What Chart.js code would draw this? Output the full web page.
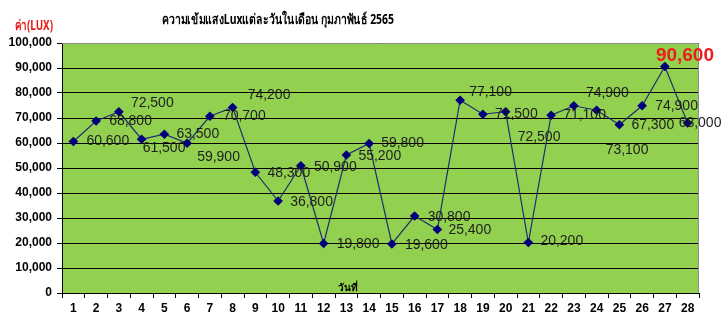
<!DOCTYPE html>
<html>
<head>
<meta charset="utf-8">
<script src="https://cdn.jsdelivr.net/npm/chart.js@4/dist/chart.umd.min.js"></script>
<style>
  html, body { margin: 0; padding: 0; background: #ffffff; }
  #wrap { position: relative; width: 724px; height: 320px; }
</style>
</head>
<body>
<div id="wrap"><canvas id="c" width="724" height="320"></canvas></div>
<script>
// ---- data ----
const days = ['1','2','3','4','5','6','7','8','9','10','11','12','13','14','15','16','17','18','19','20','21','22','23','24','25','26','27','28'];
const luxValues = [60600, 68800, 72500, 61500, 63500, 59900, 70700, 74200, 48300, 36800, 50900, 19800, 55200, 59800, 19600, 30800, 25400, 77100, 71500, 72500, 20200, 71100, 74900, 73100, 67300, 74900, 90600, 68000];
const yTickValues = [0, 10000, 20000, 30000, 40000, 50000, 60000, 70000, 80000, 90000, 100000];
const chartTitle = 'ความเข้มแสงLuxแต่ละวันในเดือน กุมภาพันธ์ 2565';
const yAxisTitle = 'ค่า(LUX)';
const xAxisTitle = 'วันที่';
const maxDay = '27';

// ---- label placement (style, relative to each point) ----
const labelOffsets = [
  [13,0],[13,0],[12,-9],[1,9],[12,0],[10,14],[13,0],[15,-12],[12,1],[12,1],
  [13,1],[13,1],[12,1],[12,0],[13,1],[13,1],[11,1],[9,-8],[12,0],[12,25],
  [12,-1],[12,0],[12,-13],[9,40],[12,0],[13,0],[-9,-11],[-9,0]
];

const fmt = v => v.toLocaleString('en-US');
const FONT = "'Liberation Sans', Arial, sans-serif";
const THAI = "Tahoma, 'Noto Sans', 'DejaVu Sans', sans-serif";

function fitText(ctx, txt, cx, cy, width) {
  const w = ctx.measureText(txt).width;
  const sx = Math.min(1, width / w);
  ctx.save();
  ctx.translate(cx, cy);
  ctx.scale(sx, 1);
  ctx.textAlign = 'center';
  ctx.fillText(txt, 0, 0);
  ctx.restore();
}

const decor = {
  id: 'decor',
  beforeDraw(chart) {
    const {ctx, chartArea: a} = chart;
    ctx.save();
    ctx.fillStyle = '#92D050';
    ctx.fillRect(a.left, a.top, a.right - a.left, a.bottom - a.top);
    ctx.restore();
  },
  afterDatasetsDraw(chart) {
    const {ctx, chartArea: a} = chart;
    const meta = chart.getDatasetMeta(0);
    ctx.save();
    // plot border (top/right gray)
    ctx.strokeStyle = '#8c8c8c';
    ctx.lineWidth = 1;
    ctx.beginPath();
    ctx.moveTo(a.left, a.top + 0.5);
    ctx.lineTo(a.right - 0.5, a.top + 0.5);
    ctx.lineTo(a.right - 0.5, a.bottom);
    ctx.stroke();
    // data labels
    ctx.textBaseline = 'middle';
    meta.data.forEach((pt, i) => {
      const off = labelOffsets[i] || [12, 0];
      const txt = fmt(luxValues[i]);
      if (days[i] === maxDay) {
        ctx.font = 'bold 19px ' + FONT;
        ctx.fillStyle = '#EE1C1C';
      } else {
        ctx.font = '14px ' + FONT;
        ctx.fillStyle = '#1e1e1e';
      }
      ctx.textAlign = 'left';
      ctx.fillText(txt, pt.x + off[0], pt.y + off[1]);
    });
    // titles
    ctx.fillStyle = '#000';
    ctx.font = 'bold 14px ' + THAI;
    fitText(ctx, chartTitle, 278, 20, 232);
    ctx.fillStyle = '#E81818';
    ctx.font = 'bold 14px ' + THAI;
    fitText(ctx, yAxisTitle, 34, 26, 38);
    ctx.fillStyle = '#000';
    ctx.font = 'bold 10px ' + THAI;
    fitText(ctx, xAxisTitle, 348, 288, 20);
    ctx.restore();
  }
};

new Chart(document.getElementById('c'), {
  type: 'line',
  data: {
    labels: days,
    datasets: [{
      data: luxValues,
      borderColor: '#1F2E6E',
      borderWidth: 1.2,
      tension: 0,
      pointStyle: 'rectRot',
      pointRadius: 4,
      pointBackgroundColor: '#00007A',
      pointBorderColor: '#00007A',
      clip: false
    }]
  },
  options: {
    responsive: false,
    animation: false,
    events: [],
    layout: { padding: { top: 43, right: 25, left: 0, bottom: 0 } },
    plugins: { legend: { display: false }, title: { display: false }, tooltip: { enabled: false } },
    scales: {
      x: {
        type: 'category',
        offset: true,
        grid: { offset: true, drawOnChartArea: false, drawTicks: true, tickLength: 5, color: '#000' },
        border: { color: '#000', width: 1 },
        ticks: { color: '#000', font: { family: FONT, size: 12, weight: 'bold' }, padding: 3, maxRotation: 0, autoSkip: false },
        afterFit(s) { s.height = 27; }
      },
      y: {
        min: 0, max: 100000,
        afterBuildTicks(s) { s.ticks = yTickValues.map(v => ({ value: v })); },
        grid: { color: '#000', lineWidth: 1, drawTicks: true, tickLength: 5 },
        border: { color: '#000', width: 1 },
        ticks: { color: '#000', font: { family: FONT, size: 12, weight: 'bold' }, padding: 5, callback: v => fmt(v) },
        afterFit(s) { s.width = 62; }
      }
    }
  },
  plugins: [decor]
});
</script>
</body>
</html>
